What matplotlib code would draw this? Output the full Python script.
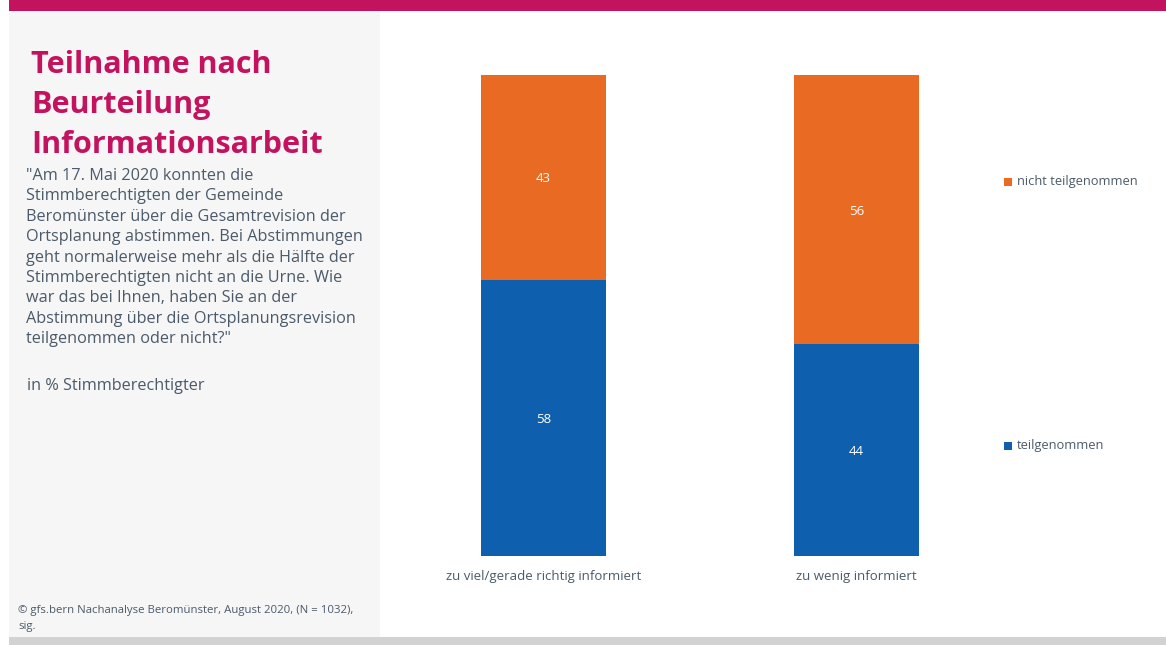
import matplotlib
matplotlib.use("Agg")
import matplotlib.pyplot as plt
from matplotlib.patches import Rectangle
import numpy as np

# Data
categories = ["zu viel/gerade richtig informiert", "zu wenig informiert"]
teilgenommen = [58, 44]
nicht_teilgenommen = [43, 56]
series_names = ["teilgenommen", "nicht teilgenommen"]

title_lines = ["Teilnahme nach", "Beurteilung", "Informationsarbeit"]
question_lines = [
    '"Am 17. Mai 2020 konnten die',
    "Stimmberechtigten der Gemeinde",
    "Beromünster über die Gesamtrevision der",
    "Ortsplanung abstimmen. Bei Abstimmungen",
    "geht normalerweise mehr als die Hälfte der",
    "Stimmberechtigten nicht an die Urne. Wie",
    "war das bei Ihnen, haben Sie an der",
    "Abstimmung über die Ortsplanungsrevision",
    'teilgenommen oder nicht?"',
]
unit_text = "in % Stimmberechtigter"
source_lines = ["© gfs.bern Nachanalyse Beromünster, August 2020, (N = 1032),", "sig."]

W, H = 1166, 645
MAGENTA = "#C4135E"
ORANGE = "#E96B23"
BLUE = "#0E60AE"
TEXT = "#4B5A69"
PANEL = "#F6F6F6"

plt.rcParams["font.family"] = ["Open Sans", "DejaVu Sans"]

fig = plt.figure(figsize=(W / 100, H / 100), dpi=100)
fig.patch.set_facecolor("white")


def fx(px):
    return px / W


def fy(py):
    return 1 - py / H


# Frame elements
fig.add_artist(Rectangle((fx(9), fy(11)), fx(W - 9), 11 / H, transform=fig.transFigure,
                         facecolor=MAGENTA, edgecolor="none", zorder=0))
fig.add_artist(Rectangle((fx(9), fy(637)), fx(380 - 9), (637 - 11) / H, transform=fig.transFigure,
                         facecolor=PANEL, edgecolor="none", zorder=0))
fig.add_artist(Rectangle((fx(9), 0), fx(W - 9), 8 / H, transform=fig.transFigure,
                         facecolor="#D2D2D2", edgecolor="none", zorder=0))

# Title
for i, line in enumerate(title_lines):
    fig.text(fx(31), fy(65 + 40 * i), line, color=MAGENTA, fontsize=22, fontweight="bold",
             va="center", ha="left")

# Question text
for i, line in enumerate(question_lines):
    fig.text(fx(26), fy(176 + 20.4 * i), line, color=TEXT, fontsize=11.7, va="center", ha="left")

fig.text(fx(27), fy(386), unit_text, color=TEXT, fontsize=11.7, va="center", ha="left")

for i, line in enumerate(source_lines):
    fig.text(fx(18), fy(610 + 16 * i), line, color=TEXT, fontsize=8.2, va="center", ha="left")

# Chart axes
left_px, right_px, top_px, bottom_px = 400, 980, 75, 556
ax = fig.add_axes([fx(left_px), fy(bottom_px), fx(right_px - left_px), (bottom_px - top_px) / H])
ax.set_facecolor("none")

tg = np.array(teilgenommen, dtype=float)
ntg = np.array(nicht_teilgenommen, dtype=float)
total = tg + ntg
tg_share = tg / total * 100
ntg_share = ntg / total * 100

x = np.arange(len(categories))
width = 0.4
b1 = ax.bar(x, tg_share, width, color=BLUE, label=series_names[0])
b2 = ax.bar(x, ntg_share, width, bottom=tg_share, color=ORANGE, label=series_names[1])

for bars, vals in ((b1, teilgenommen), (b2, nicht_teilgenommen)):
    for rect, val in zip(bars, vals):
        ax.text(rect.get_x() + rect.get_width() / 2, rect.get_y() + rect.get_height() / 2, str(val),
                color="white", fontsize=9.5, ha="center", va="center_baseline")

ax.set_xlim(-0.4585, 1.3946)
ax.set_ylim(0, 100)
ax.set_xticks(x)
ax.set_xticklabels(categories, color=TEXT, fontsize=9.5)
ax.tick_params(axis="x", length=0, pad=10)
ax.set_yticks([])
for s in ax.spines.values():
    s.set_visible(False)

# Legend entries
legend_items = [(series_names[1], ORANGE, 182), (series_names[0], BLUE, 446)]
for name, col, py in legend_items:
    fig.add_artist(Rectangle((fx(1004), fy(py + 4)), 8 / W, 8 / H, transform=fig.transFigure,
                             facecolor=col, edgecolor="none"))
    fig.text(fx(1017), fy(py), name, color=TEXT, fontsize=9.3, va="center", ha="left")

fig.savefig("out.png", dpi=100, facecolor=fig.get_facecolor())
